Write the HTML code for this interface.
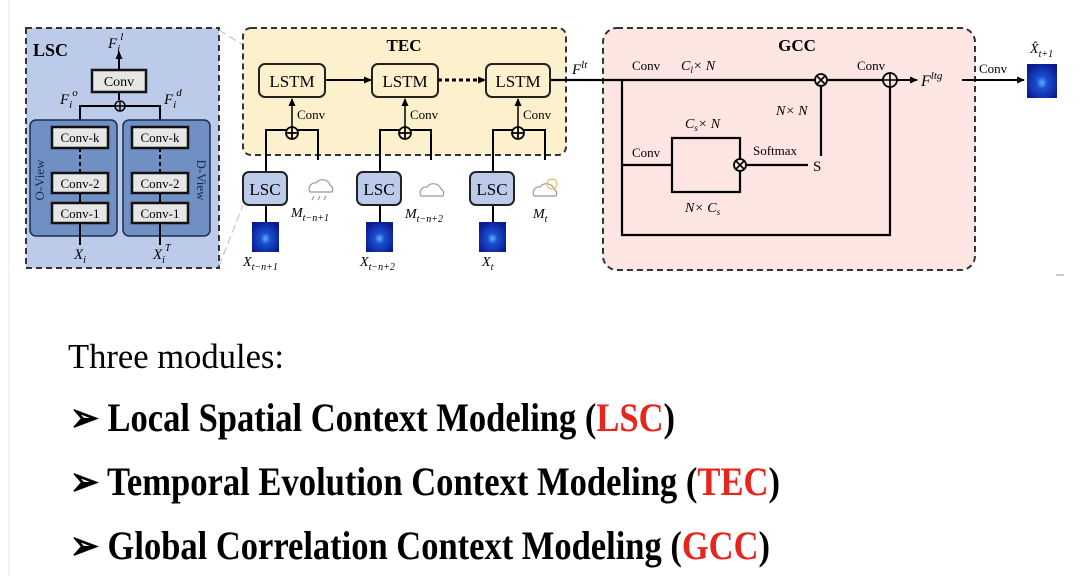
<!DOCTYPE html>
<html><head><meta charset="utf-8"><style>
html,body{margin:0;padding:0;background:#fff;}
svg{display:block;font-family:"Liberation Serif",serif;}
</style></head><body>
<svg width="1080" height="576" viewBox="0 0 1080 576" xmlns="http://www.w3.org/2000/svg">
<defs>
<marker id="ar" markerWidth="8" markerHeight="8" refX="7" refY="4" orient="auto" markerUnits="userSpaceOnUse"><path d="M0,0.5 L8,4 L0,7.5z" fill="#000"/></marker>
<radialGradient id="tile" cx="50%" cy="55%" r="60%"><stop offset="0" stop-color="#5fb0ff"/><stop offset="0.3" stop-color="#1a50d0"/><stop offset="1" stop-color="#0a1a90"/></radialGradient>
</defs>
<rect x="0" y="0" width="1080" height="576" fill="#fff"/>
<line x1="9" y1="0" x2="9" y2="576" stroke="#e4e4e4" stroke-width="1"/>

<!-- LSC -->
<rect x="26" y="28" width="193" height="240" fill="#bccbe9" stroke="#333" stroke-width="2" stroke-dasharray="6,4"/>
<line x1="219" y1="30" x2="243" y2="45" stroke="#bbb" stroke-dasharray="8,4"/>
<line x1="219" y1="266" x2="243" y2="205" stroke="#bbb" stroke-dasharray="8,4"/>
<text x="33" y="56" font-size="18" font-weight="bold">LSC</text>
<text x="108" y="48" font-size="15" font-style="italic">F<tspan font-size="11" dy="4">i</tspan><tspan font-size="11" dy="-12">l</tspan></text>
<line x1="119" y1="70" x2="119" y2="52" stroke="#000" stroke-width="2" marker-end="url(#ar)"/>
<rect x="92" y="70" width="54" height="22" fill="#e6e6e6" stroke="#111" stroke-width="2.5"/>
<text x="119" y="86" font-size="14" text-anchor="middle">Conv</text>
<line x1="119" y1="92" x2="119" y2="100" stroke="#000" stroke-width="2"/>
<path d="M80,120 V106 H160 V120" fill="none" stroke="#000" stroke-width="2"/>
<circle cx="120" cy="106" r="5" fill="#bccbe9" stroke="#000" stroke-width="1.5"/>
<path d="M115,106 H125 M120,101 V111" stroke="#000" stroke-width="1.5"/>
<text x="60" y="104" font-size="15" font-style="italic">F<tspan font-size="11" dy="4">i</tspan><tspan font-size="11" dy="-12">o</tspan></text>
<text x="164" y="104" font-size="15" font-style="italic">F<tspan font-size="11" dy="4">i</tspan><tspan font-size="11" dy="-12">d</tspan></text>
<rect x="30" y="120" width="87" height="116" rx="6" fill="#7090c4" stroke="#1a2a50" stroke-width="1.5"/>
<rect x="123" y="120" width="87" height="116" rx="6" fill="#7090c4" stroke="#1a2a50" stroke-width="1.5"/>
<line x1="80" y1="148" x2="80" y2="173" stroke="#000" stroke-width="2" stroke-dasharray="4,3"/>
<line x1="160" y1="148" x2="160" y2="173" stroke="#000" stroke-width="2" stroke-dasharray="4,3"/>
<line x1="80" y1="193" x2="80" y2="203" stroke="#000" stroke-width="2"/>
<line x1="160" y1="193" x2="160" y2="203" stroke="#000" stroke-width="2"/>
<line x1="80" y1="223" x2="80" y2="245" stroke="#000" stroke-width="2"/>
<line x1="160" y1="223" x2="160" y2="245" stroke="#000" stroke-width="2"/>
<g font-size="13" text-anchor="middle">
<rect x="52" y="127" width="56" height="21" fill="#e6e6e6" stroke="#111" stroke-width="2.5"/><text x="80" y="142">Conv-k</text>
<rect x="52" y="173" width="56" height="20" fill="#e6e6e6" stroke="#111" stroke-width="2.5"/><text x="80" y="188">Conv-2</text>
<rect x="52" y="203" width="56" height="20" fill="#e6e6e6" stroke="#111" stroke-width="2.5"/><text x="80" y="218">Conv-1</text>
<rect x="132" y="127" width="56" height="21" fill="#e6e6e6" stroke="#111" stroke-width="2.5"/><text x="160" y="142">Conv-k</text>
<rect x="132" y="173" width="56" height="20" fill="#e6e6e6" stroke="#111" stroke-width="2.5"/><text x="160" y="188">Conv-2</text>
<rect x="132" y="203" width="56" height="20" fill="#e6e6e6" stroke="#111" stroke-width="2.5"/><text x="160" y="218">Conv-1</text>
</g>
<text transform="translate(44,180) rotate(-90)" font-size="13" text-anchor="middle" fill="#1a2a50">O-View</text>
<text transform="translate(197,180) rotate(90)" font-size="13" text-anchor="middle" fill="#1a2a50">D-View</text>
<text x="74" y="259" font-size="15" font-style="italic">X<tspan font-size="10" dy="4">i</tspan></text>
<text x="153" y="259" font-size="15" font-style="italic">X<tspan font-size="10" dy="4">i</tspan><tspan font-size="10" dy="-12">T</tspan></text>

<!-- TEC -->
<rect x="243" y="28" width="323" height="127" rx="8" fill="#fdf0cd" stroke="#333" stroke-width="2" stroke-dasharray="6,4"/>
<text x="404" y="51" font-size="17" font-weight="bold" text-anchor="middle">TEC</text>
<g font-size="17" text-anchor="middle">
<rect x="259" y="64" width="66" height="33" rx="6" fill="#fdf0cd" stroke="#222" stroke-width="2"/><text x="292" y="87">LSTM</text>
<rect x="372" y="64" width="66" height="33" rx="6" fill="#fdf0cd" stroke="#222" stroke-width="2"/><text x="405" y="87">LSTM</text>
<rect x="486" y="64" width="64" height="33" rx="6" fill="#fdf0cd" stroke="#222" stroke-width="2"/><text x="518" y="87">LSTM</text>
</g>
<line x1="325" y1="80" x2="371" y2="80" stroke="#000" stroke-width="2" marker-end="url(#ar)"/>
<line x1="438" y1="80" x2="485" y2="80" stroke="#000" stroke-width="3" stroke-dasharray="4,3" marker-end="url(#ar)"/>
<g stroke="#000" stroke-width="2" fill="none">
<path d="M266,172 V130 H318 V160"/><path d="M380,172 V130 H431 V160"/><path d="M493,172 V130 H545 V160"/>
</g>
<g stroke="#000" stroke-width="1.5">
<line x1="292" y1="127" x2="292" y2="99" marker-end="url(#ar)"/>
<line x1="405" y1="127" x2="405" y2="99" marker-end="url(#ar)"/>
<line x1="518" y1="127" x2="518" y2="99" marker-end="url(#ar)"/>
</g>
<g fill="#fdf0cd" stroke="#000" stroke-width="1.8">
<circle cx="292" cy="133" r="6"/><circle cx="405" cy="133" r="6"/><circle cx="518" cy="133" r="6"/>
</g>
<path d="M286,133H298M292,127V139M399,133H411M405,127V139M512,133H524M518,127V139" stroke="#000" stroke-width="1.8"/>
<g font-size="13"><text x="297" y="119">Conv</text><text x="410" y="119">Conv</text><text x="523" y="119">Conv</text></g>
<g font-size="17" text-anchor="middle">
<rect x="243" y="172" width="44" height="33" rx="6" fill="#bccbe9" stroke="#222" stroke-width="2"/><text x="265" y="195">LSC</text>
<rect x="357" y="172" width="44" height="33" rx="6" fill="#bccbe9" stroke="#222" stroke-width="2"/><text x="379" y="195">LSC</text>
<rect x="470" y="172" width="44" height="33" rx="6" fill="#bccbe9" stroke="#222" stroke-width="2"/><text x="492" y="195">LSC</text>
</g>
<g stroke="#000" stroke-width="2"><line x1="266" y1="205" x2="266" y2="222"/><line x1="380" y1="205" x2="380" y2="222"/><line x1="493" y1="205" x2="493" y2="222"/></g>
<g fill="url(#tile)"><rect x="252" y="222" width="27" height="30"/><rect x="366" y="222" width="27" height="30"/><rect x="479" y="222" width="27" height="30"/></g>
<g fill="none" stroke="#999" stroke-width="1.2">
<path d="M310,192 a6,6 0 0 1 6,-9 a8,8 0 0 1 14,2 a5,5 0 0 1 2,7z"/>
<path d="M314,196 l-2,4 M320,196 l-2,4 M326,196 l-2,4" stroke="#7aa"/>
<path d="M421,196 a6,6 0 0 1 6,-9 a8,8 0 0 1 14,2 a5,5 0 0 1 2,7z"/>
<path d="M534,196 a6,6 0 0 1 6,-9 a8,8 0 0 1 14,2 a5,5 0 0 1 2,7z"/>
<circle cx="552" cy="184" r="5" stroke="#e8c060"/>
</g>
<g font-size="14" font-style="italic">
<text x="291" y="217">M<tspan font-size="10" dy="4">t−n+1</tspan></text>
<text x="405" y="218">M<tspan font-size="10" dy="4">t−n+2</tspan></text>
<text x="533" y="218">M<tspan font-size="10" dy="4">t</tspan></text>
<text x="243" y="266">X<tspan font-size="10" dy="4">t−n+1</tspan></text>
<text x="360" y="266">X<tspan font-size="10" dy="4">t−n+2</tspan></text>
<text x="482" y="266">X<tspan font-size="10" dy="4">t</tspan></text>
</g>

<!-- GCC -->
<rect x="603" y="28" width="372" height="242" rx="14" fill="#fde5e1" stroke="#333" stroke-width="2" stroke-dasharray="6,4"/>
<text x="797" y="51" font-size="17" font-weight="bold" text-anchor="middle">GCC</text>
<text x="572" y="74" font-size="15" font-style="italic">F<tspan font-size="11" dy="-6">lt</tspan></text>
<g stroke="#000" stroke-width="2.2" fill="none">
<line x1="550" y1="80" x2="815" y2="80"/>
<line x1="827" y1="80" x2="884" y2="80"/>
<path d="M622,80 V235 H890 V86"/>
<path d="M622,165 H672"/>
<rect x="672" y="138" width="68" height="54"/>
<line x1="746" y1="165" x2="808" y2="165"/>
<line x1="821" y1="86" x2="821" y2="156"/>
</g>
<line x1="896" y1="80" x2="917" y2="80" stroke="#000" stroke-width="2" marker-end="url(#ar)"/>
<line x1="962" y1="80" x2="1024" y2="80" stroke="#000" stroke-width="2" marker-end="url(#ar)"/>
<g fill="#fde5e1" stroke="#000" stroke-width="1.8"><circle cx="821" cy="80" r="6"/><circle cx="740" cy="165" r="6"/><circle cx="890" cy="80" r="7"/></g>
<path d="M817,76l8,8M825,76l-8,8M736,161l8,8M744,161l-8,8M883,80H897M890,73V87" stroke="#000" stroke-width="1.6"/>
<g font-size="13">
<text x="632" y="70">Conv</text><text x="857" y="70">Conv</text><text x="632" y="157">Conv</text>
<text x="979" y="73">Conv</text><text x="753" y="155">Softmax</text>
</g>
<g font-size="14" font-style="italic">
<text x="681" y="70">C<tspan font-size="9" dy="3">l</tspan><tspan dy="-3">× N</tspan></text>
<text x="685" y="128">C<tspan font-size="9" dy="3">s</tspan><tspan dy="-3">× N</tspan></text>
<text x="685" y="212">N× C<tspan font-size="9" dy="3">s</tspan></text>
<text x="776" y="115">N× N</text>
<text x="921" y="86" font-size="16">F<tspan font-size="11" dy="-7">ltg</tspan></text>
<text x="1030" y="53">X̂<tspan font-size="10" dy="4">t+1</tspan></text>
</g>
<text x="813" y="171" font-size="15">S</text>
<rect x="1027" y="64" width="30" height="34" fill="url(#tile)"/>
<line x1="1056" y1="275" x2="1064" y2="275" stroke="#999"/>

<!-- text -->
<text x="68" y="368" font-size="35" textLength="216" lengthAdjust="spacingAndGlyphs">Three modules:</text>
<g font-size="40" font-weight="bold">
<text x="70" y="431" textLength="605" lengthAdjust="spacingAndGlyphs">➢ Local Spatial Context Modeling (<tspan fill="#e8251c">LSC</tspan>)</text>
<text x="70" y="495" textLength="710" lengthAdjust="spacingAndGlyphs">➢ Temporal Evolution Context Modeling (<tspan fill="#e8251c">TEC</tspan>)</text>
<text x="70" y="559" textLength="700" lengthAdjust="spacingAndGlyphs">➢ Global Correlation Context Modeling (<tspan fill="#e8251c">GCC</tspan>)</text>
</g>
</svg>
</body></html>
